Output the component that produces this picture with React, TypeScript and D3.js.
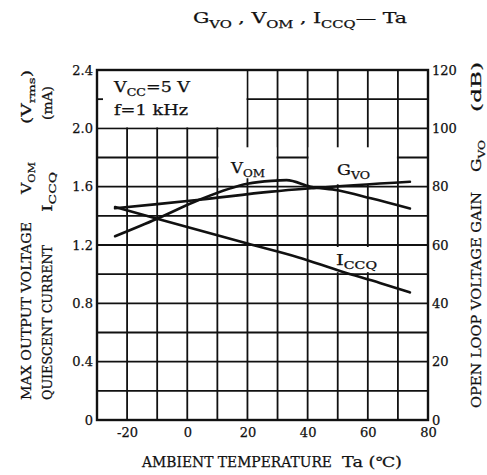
import { useRef, useEffect } from "react";
import * as d3 from "d3";

// temperature axis
const tempTicks = [-20, 0, 20, 40, 60, 80];
const tempGrid = [-20, -10, 0, 10, 20, 30, 40, 50, 60, 70];
const leftTicks = [0, 0.4, 0.8, 1.2, 1.6, 2.0, 2.4];
const leftGrid = [0.2, 0.4, 0.6, 0.8, 1.0, 1.2, 1.4, 1.6, 1.8, 2.0, 2.2];
const rightTicks = [0, 20, 40, 60, 80, 100, 120];

// V_OM (Vrms), left axis
const vomTemp = [-24, -10, 4, 20, 28, 33, 41, 50, 61, 74];
const vomVal = [1.26, 1.38, 1.51, 1.62, 1.64, 1.645, 1.6, 1.575, 1.52, 1.45];

// G_VO (dB), right axis
const gvoTemp = [-24, -10, 4, 28, 42, 74];
const gvoVal = [72.6, 74, 75.5, 78.3, 79.5, 81.7];

// I_CCQ (mA), left axis
const iccqTemp = [-24, -10, 20, 37, 51, 64, 74];
const iccqVal = [1.46, 1.38, 1.21, 1.115, 1.02, 0.94, 0.875];

const FONT = "DejaVu Serif";

// main text + subscript (+ optional text after)
function sub(parent: any, main: string, s: string, size: number, after = "") {
    parent.append("tspan").text(main);
    parent.append("tspan").attr("font-size", size * 0.72).attr("dy", size * 0.3).text(s);
    if (after !== "") parent.append("tspan").attr("dy", -size * 0.3).text(after);
    return parent;
}

export default function App() {
    const svgRef = useRef<SVGSVGElement | null>(null);

    useEffect(() => {
        if (!svgRef.current) return;
        const svg = d3.select(svgRef.current);
        svg.selectAll("*").remove();

        const x = d3.scaleLinear().domain([-30, 80]).range([97, 428]);
        const yL = d3.scaleLinear().domain([0, 2.4]).range([420, 70]);
        const yR = d3.scaleLinear().domain([0, 120]).range([420, 70]);

        svg.append("rect").attr("width", 487).attr("height", 475).attr("fill", "#fff");

        // grid
        const grid = svg.append("g").attr("stroke", "#111").attr("stroke-width", 1.8);
        tempGrid.forEach(t => {
            grid.append("line").attr("x1", x(t)).attr("x2", x(t)).attr("y1", yL(2.4)).attr("y2", yL(0));
        });
        leftGrid.forEach(v => {
            grid.append("line").attr("x1", x(-30)).attr("x2", x(80)).attr("y1", yL(v)).attr("y2", yL(v));
        });

        // knock out grid behind condition box and curve labels
        const ko = svg.append("g").attr("fill", "#fff");
        ko.append("rect").attr("x", x(-30) + 1).attr("y", yL(2.4) + 1)
            .attr("width", x(20) - x(-30) - 2).attr("height", yL(2.0) - yL(2.4) - 2);
        ko.append("rect").attr("x", x(20) - 29).attr("y", yL(1.87)).attr("width", 58).attr("height", 31);
        ko.append("rect").attr("x", x(40) + 1).attr("y", yL(1.87)).attr("width", x(70) - x(40) - 2).attr("height", 37);
        ko.append("rect").attr("x", x(46)).attr("y", yL(1.2) + 2).attr("width", x(70) - x(46) - 1).attr("height", yL(1.0) - yL(1.2) - 4);
        // tick inside box
        svg.append("line").attr("x1", x(-30)).attr("x2", x(-30) + 6).attr("y1", yL(2.2)).attr("y2", yL(2.2))
            .attr("stroke", "#111").attr("stroke-width", 1.8);

        // frame
        svg.append("rect").attr("x", x(-30)).attr("y", yL(2.4))
            .attr("width", x(80) - x(-30)).attr("height", yL(0) - yL(2.4))
            .attr("fill", "none").attr("stroke", "#111").attr("stroke-width", 2.4);

        // axes labels
        const leftAxis = d3.axisLeft(yL).tickValues(leftTicks).tickSize(0).tickPadding(4)
            .tickFormat((d: any) => d === 0 ? "0" : d3.format(".1f")(d));
        svg.append("g").attr("transform", `translate(${x(-30)},0)`).call(leftAxis);
        const rightAxis = d3.axisRight(yR).tickValues(rightTicks).tickSize(0).tickPadding(4)
            .tickFormat((d: any) => String(d));
        svg.append("g").attr("transform", `translate(${x(80)},0)`).call(rightAxis);
        const bottomAxis = d3.axisBottom(x).tickValues(tempTicks).tickSize(0).tickPadding(8)
            .tickFormat((d: any) => String(d));
        svg.append("g").attr("transform", `translate(0,${yL(0)})`).call(bottomAxis);
        svg.selectAll(".domain").remove();
        svg.selectAll(".tick text").attr("font-family", FONT).attr("font-size", 13).attr("fill", "#111")
            .attr("stroke", "#111").attr("stroke-width", 0.25);

        // curves
        const curves = svg.append("g").attr("fill", "none").attr("stroke", "#111").attr("stroke-width", 2.6)
            .attr("stroke-linecap", "round");
        const lineL = d3.line<number>().curve(d3.curveMonotoneX);
        curves.append("path").attr("d", lineL(vomTemp.map((t, i) => [x(t), yL(vomVal[i])]) as any));
        curves.append("path").attr("d", lineL(gvoTemp.map((t, i) => [x(t), yR(gvoVal[i])]) as any));
        curves.append("path").attr("d", lineL(iccqTemp.map((t, i) => [x(t), yL(iccqVal[i])]) as any));

        const txt = (px: number, py: number, size: number) =>
            svg.append("text").attr("x", px).attr("y", py).attr("font-family", FONT)
                .attr("font-size", size).attr("fill", "#111").attr("stroke", "#111").attr("stroke-width", 0.25);
        const fit = (t: any, len: number) => t.attr("textLength", len).attr("lengthAdjust", "spacingAndGlyphs");

        // title
        const title = fit(txt(193, 23, 15), 214);
        sub(title, "G", "VO", 15, " , ");
        sub(title, "V", "OM", 15, " , ");
        sub(title, "I", "CCQ", 15, "\u2014 Ta");

        // conditions
        sub(fit(txt(114, 92, 14), 76), "V", "CC", 14, "=5 V");
        fit(txt(114, 115, 14), 74).text("f=1 kHz");

        // curve labels
        sub(fit(txt(231, 173, 14), 34), "V", "OM", 14);
        sub(fit(txt(337, 175, 14), 33), "G", "VO", 14);
        sub(fit(txt(336, 265, 14), 41), "I", "CCQ", 14);

        // bottom title
        fit(txt(142, 467, 14), 190).text("AMBIENT TEMPERATURE");
        fit(txt(342, 467, 14), 60).text("Ta (\u2103)");

        // rotated column labels
        const col = (bx: number, parts: [number, (t: any) => void][]) => {
            parts.forEach(([py, fill]) => {
                const t = svg.append("text").attr("transform", `translate(${bx},${py}) rotate(-90)`)
                    .attr("font-family", FONT).attr("font-size", 13.5).attr("fill", "#111")
                    .attr("stroke", "#111").attr("stroke-width", 0.25);
                fill(t);
            });
        };
        col(31, [
            [400, t => fit(t, 178).text("MAX OUTPUT VOLTAGE")],
            [194, t => fit(sub(t, "V", "OM", 13.5), 32)],
            [124, t => fit(sub(t, "(V", "rms", 13.5, ")"), 54)],
        ]);
        col(52, [
            [400, t => fit(t, 155).text("QUIESCENT CURRENT")],
            [212, t => fit(sub(t, "I", "CCQ", 13.5), 40)],
            [120, t => fit(t, 34).text("(mA)")],
        ]);
        col(481, [
            [408, t => fit(t, 216).text("OPEN LOOP VOLTAGE GAIN")],
            [172, t => fit(sub(t, "G", "VO", 13.5), 32)],
            [112, t => fit(t, 50).text("(dB)")],
        ]);
    }, []);

    return (
        <svg ref={svgRef} width={487} height={475}
            style={{ position: "absolute", left: 0, top: 0, background: "#fff" }} />
    );
}
